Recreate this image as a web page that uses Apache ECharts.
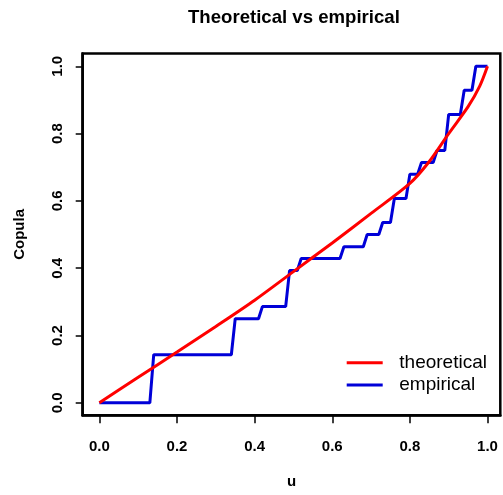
<!DOCTYPE html>
<html>
<head>
<meta charset="utf-8">
<title>Theoretical vs empirical</title>
<script src="https://cdn.jsdelivr.net/npm/echarts@6/dist/echarts.min.js"></script>
<style>
  html, body { margin: 0; padding: 0; background: #fff; }
  #chart { width: 503px; height: 495px; }
</style>
</head>
<body>
<div id="chart"></div>
<script>
// Theoretical copula curve, sampled along u
const theoU = [0, 0.1, 0.2, 0.3, 0.4, 0.5, 0.6, 0.7, 0.8, 0.85, 0.9, 0.95, 0.98, 1.0];
const theoV = [0, 0.076, 0.151, 0.227, 0.305, 0.39, 0.475, 0.563, 0.652, 0.717, 0.80, 0.88, 0.941, 1.0];

// Empirical copula: plateau levels and the u-interval over which each jump happens
const empLevels = [0, 0.143, 0.25, 0.286, 0.393, 0.429, 0.464, 0.5, 0.536, 0.607, 0.679, 0.714, 0.75, 0.857, 0.929, 1.0];
const jumpFrom  = [0.13, 0.34, 0.41, 0.48, 0.51, 0.62, 0.68, 0.72, 0.75, 0.79, 0.82, 0.86, 0.89, 0.93, 0.96];
const jumpTo    = [0.14, 0.35, 0.42, 0.49, 0.52, 0.63, 0.69, 0.73, 0.76, 0.80, 0.83, 0.87, 0.90, 0.94, 0.97];

// Axis tick positions
const tickValues = [0, 0.2, 0.4, 0.6, 0.8, 1.0];

const theoData = theoU.map((u, i) => [u, theoV[i]]);
const empData = [[0, empLevels[0]]];
jumpFrom.forEach((u, i) => {
  empData.push([u, empLevels[i]]);
  empData.push([jumpTo[i], empLevels[i + 1]]);
});
empData.push([1.0, empLevels[empLevels.length - 1]]);

const FONT = '"Liberation Sans", Arial, sans-serif';
const labelStyle = { fontFamily: FONT, fontSize: 15, fontWeight: 'bold', color: '#000' };

const chart = echarts.init(document.getElementById('chart'));
chart.setOption({
  animation: false,
  backgroundColor: '#fff',
  title: {
    text: 'Theoretical vs empirical',
    left: 188,
    top: 8,
    padding: 0,
    textStyle: { fontFamily: FONT, fontSize: 18.6, fontWeight: 'bold', color: '#000' }
  },
  grid: {
    left: 82.7,
    top: 53.5,
    width: 417.6,
    height: 361.8,
    containLabel: false,
    outerBoundsMode: 'none',
    show: true,
    borderColor: '#000',
    borderWidth: 2.5
  },
  legend: {
    orient: 'vertical',
    left: 346.7,
    top: 353.2,
    padding: 0,
    itemWidth: 36,
    itemHeight: 3,
    itemGap: 3.3,
    icon: 'rect',
    data: ['theoretical', 'empirical'],
    textStyle: {
      fontFamily: FONT, fontSize: 19, color: '#000', lineHeight: 19,
      padding: [0, 0, 0, 11.6]
    }
  },
  xAxis: {
    type: 'value',
    min: -0.043,
    max: 1.033,
    name: 'u',
    nameLocation: 'middle',
    nameGap: 59,
    nameTextStyle: labelStyle,
    axisLine: { show: true, onZero: false, lineStyle: { color: '#000', width: 2.5 } },
    splitLine: { show: false },
    axisTick: { show: true, length: 8, customValues: tickValues, lineStyle: { color: '#000', width: 1.5 } },
    axisLabel: Object.assign({ customValues: tickValues, margin: 24, formatter: v => v.toFixed(1) }, labelStyle)
  },
  yAxis: {
    type: 'value',
    min: -0.037,
    max: 1.038,
    name: 'Copula',
    nameLocation: 'middle',
    nameGap: 55,
    nameRotate: 90,
    nameTextStyle: labelStyle,
    axisLine: { show: true, onZero: false, lineStyle: { color: '#000', width: 2.5 } },
    splitLine: { show: false },
    axisTick: { show: true, length: 7, customValues: tickValues, lineStyle: { color: '#000', width: 1.5 } },
    axisLabel: Object.assign({ customValues: tickValues, rotate: 90, margin: 17, formatter: v => v.toFixed(1) }, labelStyle)
  },
  series: [
    {
      name: 'empirical',
      type: 'line',
      data: empData,
      showSymbol: false,
      z: 2,
      color: '#0000d8',
      lineStyle: { color: '#0000d8', width: 3 }
    },
    {
      name: 'theoretical',
      type: 'line',
      data: theoData,
      showSymbol: false,
      smooth: 0.3,
      z: 3,
      color: '#ff0000',
      lineStyle: { color: '#ff0000', width: 3 }
    }
  ]
});
</script>
</body>
</html>
